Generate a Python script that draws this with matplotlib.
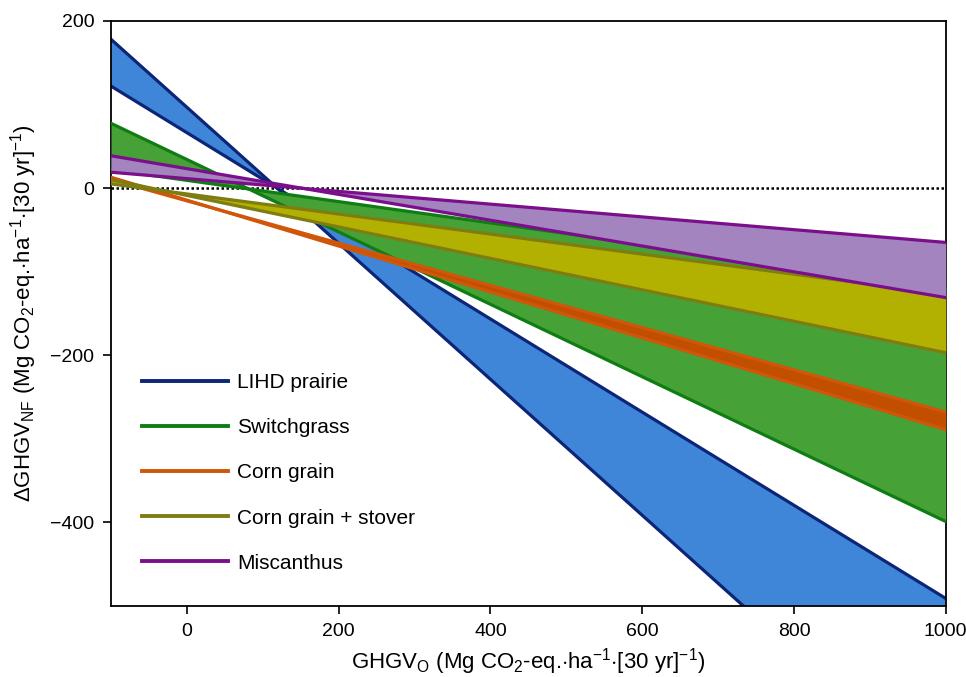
import matplotlib
matplotlib.use("Agg")
import matplotlib.pyplot as plt
import numpy as np

plt.rcParams["font.family"] = ["Liberation Sans", "DejaVu Sans"]
plt.rcParams["mathtext.fontset"] = "custom"
plt.rcParams["mathtext.rm"] = "Liberation Sans"
plt.rcParams["mathtext.it"] = "Liberation Sans"

# GHGV_O range where the bands are drawn
x_ends = [-100, 1000]

# each crop: two boundary lines, value at x=-100 and x=1000
names = ["LIHD prairie", "Switchgrass", "Corn grain", "Corn grain + stover", "Miscanthus"]
line_a = [[178, -717], [77.5, -399], [13, -289], [10, -197], [38.7, -131]]
line_b = [[122, -491], [22, -118], [10, -268], [5, -127], [19, -65]]

fill_colors = ["#3f86d9", "#46a236", "#c24e00", "#b2b000", "#a384bf"]
edge_colors = ["#0c2577", "#0f7d14", "#d0560a", "#7f7d12", "#7b0f8b"]

fig, ax = plt.subplots(figsize=(9.66, 6.77), dpi=100)
fig.subplots_adjust(left=0.115, right=0.979, top=0.969, bottom=0.105)

# zero reference line
ax.axhline(0, color="black", linestyle=(0, (1, 1)), linewidth=1.8, zorder=1)

xs = np.array(x_ends, dtype=float)
for i, name in enumerate(names):
    ya = np.array(line_a[i])
    yb = np.array(line_b[i])
    ax.fill_between(xs, ya, yb, color=fill_colors[i], linewidth=0, zorder=2 + i)
    ax.plot(xs, ya, color=edge_colors[i], linewidth=2.3, zorder=2 + i)
    ax.plot(xs, yb, color=edge_colors[i], linewidth=2.3, zorder=2 + i, label=name)

ax.set_xlim(-100, 1000)
ax.set_ylim(-500, 200)
ax.set_xticks([0, 200, 400, 600, 800, 1000])
ax.set_yticks([-400, -200, 0, 200])
ax.tick_params(direction="out", length=6, width=1.2, labelsize=14, pad=6)
for s in ax.spines.values():
    s.set_linewidth(1.3)

ax.set_xlabel(r"GHGV$_{\rm O}$ (Mg CO$_2$-eq.$\cdot$ha$^{-1}$$\cdot$[30 yr]$^{-1}$)",
              fontsize=16, labelpad=5)
ax.set_ylabel(r"$\Delta$GHGV$_{\rm NF}$ (Mg CO$_2$-eq.$\cdot$ha$^{-1}$$\cdot$[30 yr]$^{-1}$)",
              fontsize=16, labelpad=8)

leg = ax.legend(loc="lower left", bbox_to_anchor=(0.015, 0.025), frameon=False,
                fontsize=15, handlelength=4.1, labelspacing=1.25, handletextpad=0.45)
for h in leg.get_lines():
    h.set_linewidth(2.8)

fig.savefig("out.png", dpi=100)
